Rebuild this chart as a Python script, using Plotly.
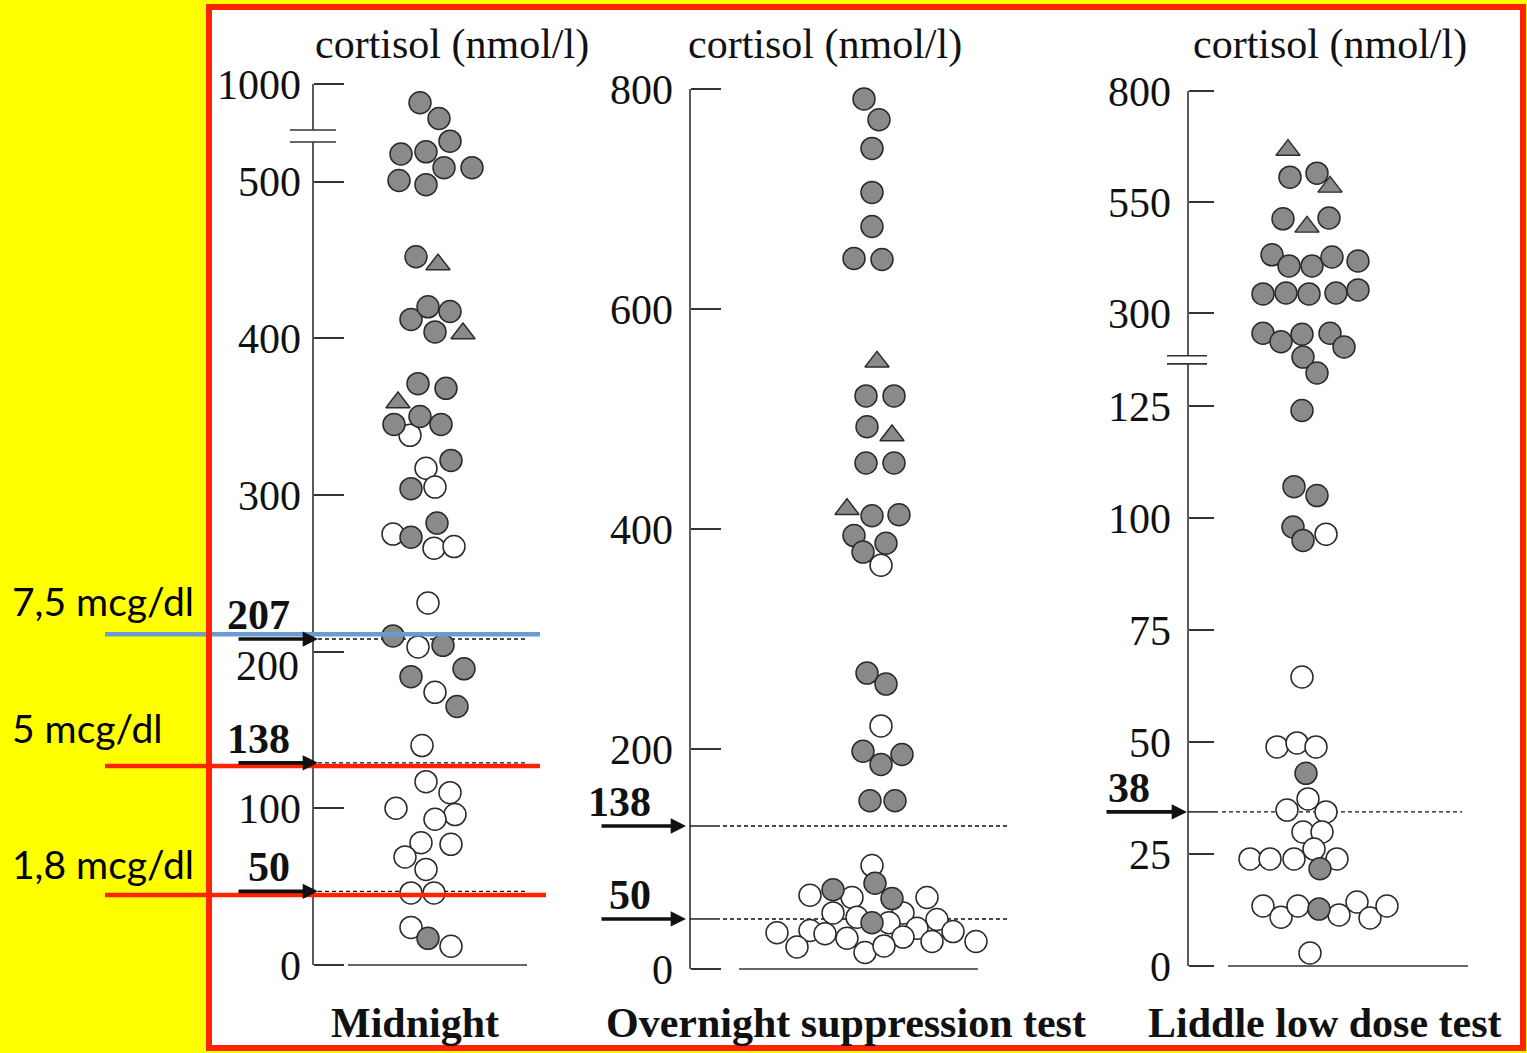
import plotly.graph_objects as go

W, H = 1527, 1053

# ---------------- data: cortisol (nmol/l) ----------------
# Midnight
mid_gray = [904, 823, 707, 641, 652, 571, 571, 505, 498, 452, 412, 420, 417, 404, 371, 368, 345, 350, 345,
            322, 304, 282, 273, 210, 204, 189, 184, 165, 17]
mid_gray_jit = [-5, 14, 25, -24, 1, 19, 47, -26, 1, -9, -14, 3, 25, 10, -7, 21, -31, -5, 16,
                26, -14, 12, -14, -32, 18, 39, -14, 32, 3]
mid_tri = [447, 403, 359]
mid_tri_jit = [13, 38, -27]
mid_open = [338, 317, 305, 275, 266, 267, 231, 203, 174, 140, 117, 110, 100, 96, 93, 78, 77, 69, 61,
            46, 46, 24, 12]
mid_open_jit = [-15, 1, 10, -32, 9, 29, 3, -7, 10, -3, 1, 25, -29, 30, 10, -4, 26, -20, 1,
                -14, 9, -14, 26]

# Overnight suppression test
on_gray = [791, 772, 746, 706, 675, 646, 645, 521, 521, 493, 460, 460, 412, 413, 394, 387, 379,
           269, 259, 198, 195, 186, 153, 153, 78, 72, 64, 42]
on_gray_jit = [-8, 7, 0, 0, 0, -18, 10, -6, 22, -5, -6, 22, 0, 27, -18, 14, -9,
               -5, 14, -9, 30, 9, -2, 23, 3, -39, 20, 0]
on_tri = [552, 485, 418]
on_tri_jit = [5, 20, -25]
on_open = [367, 221, 94, 67, 65, 65, 51, 47, 51, 42, 45, 37, 33, 35, 32, 28, 29, 34, 20, 15, 21, 25, 25]
on_open_jit = [9, 9, 0, -62, -20, 55, -39, -15, 31, 17, 65, 45, -95, -62, -47, -25, 31, 81, -75, -7, 12, 60, 104]

# Liddle low dose test
ld_gray = [606, 615, 512, 514, 431, 406, 406, 426, 417, 343, 345, 343, 345, 352, 262, 246, 260, 262,
           236, 217, 187, 124, 107, 105, 98, 95, 43, 21.7, 12.7]
ld_gray_jit = [-15, 12, -22, 24, -33, -16, 7, 27, 53, -42, -19, 4, 31, 53, -42, -24, -3, 25,
               39, -2, 12, -3, -11, 12, -12, -2, 1, 15, 14]
ld_tri = [667, 584, 494]
ld_tri_jit = [-17, 25, 2]
ld_open = [96.4, 64.5, 48.9, 49.8, 48.9, 37.3, 34.8, 34.4, 29.9, 29.9, 26.1, 23.9, 23.9, 23.9, 23.9,
           13.4, 10.9, 13.4, 11.4, 14.3, 10.7, 13.4, 2.9]
ld_open_jit = [21, -3, -28, -8, 11, 3, -18, 21, -2, 17, 9, -55, -35, -11, 32,
               -42, -24, -7, 34, 52, 65, 82, 5]

# axis ticks
mid_ticks = [0, 100, 200, 300, 400, 500, 1000]
on_ticks = [0, 200, 400, 600, 800]
ld_ticks = [0, 25, 50, 75, 100, 125, 300, 550, 800]

# cut-off arrows (label, level where the dashed line is drawn)
mid_cut_labels = ["207", "138", "50"]
mid_cut_levels = [208, 129, 47]
on_cut_labels = ["138", "50"]
on_cut_levels = [130, 45.5]
ld_cut_labels = ["38"]
ld_cut_levels = [34.4]

titles = ["Midnight", "Overnight suppression test", "Liddle low dose test"]
unit_title = "cortisol (nmol/l)"

# slide overlay (mcg/dl equivalents, drawn on the Midnight axis)
mcg_labels = ["7,5 mcg/dl", "5 mcg/dl", "1,8 mcg/dl"]
mcg_levels = [211, 127, 44.7]
mcg_colors = ["#6A9BD2", "#FF2400", "#FF2400"]


# ---------------- axis transforms (broken scales) ----------------
def u_mid(v):
    return v if v <= 500 else 500 + (v - 500) * 0.1244


def u_on(v):
    return v


def u_ld(v):
    if v <= 125:
        return v
    if v <= 300:
        return 125 + (v - 125) * 20.76 / 175
    return 145.76 + (v - 300) * 0.0991


panels = [
    dict(u=u_mid, zero=965, ppu=1.567, center=425, axis=313, dom=(300, 560), ticklen=30,
         ticks=mid_ticks, top=1000, brk=(525.2, 532.9), brk_x=(290, 336), base=(348, 527),
         dash=(318, 527), lead=False, tip=318, tail=237, lab_r=292, standoff=12,
         shifted={200: -14},
         cut_labels=mid_cut_labels, cut_levels=mid_cut_levels, title_x=452, name_x=415,
         series=[(mid_open, mid_open_jit, "open"), (mid_gray, mid_gray_jit, "gray"),
                 (mid_tri, mid_tri_jit, "tri")]),
    dict(u=u_on, zero=969, ppu=1.1, center=872, axis=690, dom=(680, 1020), ticklen=30,
         ticks=on_ticks, top=800, brk=None, brk_x=None, base=(739, 978),
         dash=(723, 1010), lead=True, tip=686, tail=600, lab_r=653, standoff=17, shifted={},
         cut_labels=on_cut_labels, cut_levels=on_cut_levels, title_x=825, name_x=846,
         series=[(on_open, on_open_jit, "open"), (on_gray, on_gray_jit, "gray"),
                 (on_tri, on_tri_jit, "tri")]),
    dict(u=u_ld, zero=966, ppu=4.48, center=1305, axis=1188, dom=(1175, 1480), ticklen=25,
         ticks=ld_ticks, top=800, brk=(134.4, 136.2), brk_x=(1167, 1207), base=(1228, 1468),
         dash=(1222, 1462), lead=True, tip=1187, tail=1105, lab_r=1152, standoff=17, shifted={},
         cut_labels=ld_cut_labels, cut_levels=ld_cut_levels, title_x=1330, name_x=1325,
         series=[(ld_open, ld_open_jit, "open"), (ld_gray, ld_gray_jit, "gray"),
                 (ld_tri, ld_tri_jit, "tri")]),
]

SERIF = "Liberation Serif"
INK = "#2a2a2a"
GRAY = "#8a8a8a"
TICKFONT = dict(family=SERIF, size=42, color="#111")


def pxx(p):
    return p / W


def pxy(p):
    return 1 - p / H


fig = go.Figure()
shapes = []
annotations = []

# white slide area (below everything)
shapes.append(dict(type="rect", xref="paper", yref="paper", x0=pxx(209), x1=pxx(1523),
                   y0=pxy(7), y1=pxy(1048), fillcolor="white", line=dict(width=0), layer="below"))

layout_axes = {}
for i, P in enumerate(panels):
    n = "" if i == 0 else str(i + 1)
    xa, ya = "x" + n, "y" + n
    u = P["u"]
    c = P["center"]
    for vals, jit, kind in P["series"]:
        if kind == "tri":
            mk = dict(symbol="triangle-up", size=21, color=GRAY, line=dict(color=INK, width=1.4))
        elif kind == "gray":
            mk = dict(symbol="circle", size=22, color=GRAY, line=dict(color=INK, width=1.5))
        else:
            mk = dict(symbol="circle", size=22, color="white", line=dict(color=INK, width=1.5))
        fig.add_trace(go.Scatter(x=jit, y=[u(v) for v in vals], mode="markers", marker=mk,
                                 xaxis=xa, yaxis=ya, cliponaxis=False, hoverinfo="skip",
                                 showlegend=False))
    d0, d1 = P["dom"]
    layout_axes["xaxis" + n] = dict(domain=[pxx(d0), pxx(d1)], range=[d0 - c, d1 - c],
                                    visible=False, fixedrange=True)
    ticktext = ["" if t in P["shifted"] else str(t) for t in P["ticks"]]
    layout_axes["yaxis" + n] = dict(
        domain=[0, 1], range=[-(H - P["zero"]) / P["ppu"], P["zero"] / P["ppu"]],
        anchor="free", position=pxx(P["axis"]), side="left",
        tickvals=[u(t) for t in P["ticks"]], ticktext=ticktext,
        ticks="inside", ticklen=P["ticklen"], tickwidth=1.5, tickcolor="#333",
        tickfont=TICKFONT, ticklabelstandoff=P["standoff"],
        showgrid=False, zeroline=False, showline=False, fixedrange=True)
    # tick labels nudged off their tick in the original (crowded by the cut-off label)
    for t, dy in P["shifted"].items():
        annotations.append(dict(xref="paper", yref=ya, x=pxx(P["axis"] - P["standoff"]), y=u(t),
                                yshift=dy, text=str(t), showarrow=False, xanchor="right",
                                yanchor="middle", font=TICKFONT))

    # axis line (with break)
    ax_x = pxx(P["axis"])
    top_u = u(P["top"])
    if P["brk"]:
        segs = [(0, P["brk"][0]), (P["brk"][1], top_u)]
    else:
        segs = [(0, top_u)]
    for s0, s1 in segs:
        shapes.append(dict(type="line", xref="paper", yref=ya, x0=ax_x, x1=ax_x, y0=s0, y1=s1,
                           line=dict(color="#333", width=1.6), layer="below"))
    if P["brk"]:
        for b in P["brk"]:
            shapes.append(dict(type="line", xref="paper", yref=ya, x0=pxx(P["brk_x"][0]),
                               x1=pxx(P["brk_x"][1]), y0=b, y1=b,
                               line=dict(color="#333", width=1.6), layer="below"))
    # baseline
    shapes.append(dict(type="line", xref=xa, yref=ya, x0=P["base"][0] - c, x1=P["base"][1] - c,
                       y0=0, y1=0, line=dict(color="#333", width=1.6), layer="below"))
    # cut-offs
    for lab, lev in zip(P["cut_labels"], P["cut_levels"]):
        dstart = P["dash"][0]
        if P["lead"]:
            shapes.append(dict(type="line", xref=xa, yref=ya, x0=P["axis"] - c,
                               x1=P["axis"] + 30 - c, y0=lev, y1=lev,
                               line=dict(color="#111", width=1.4), layer="below"))
        shapes.append(dict(type="line", xref=xa, yref=ya, x0=dstart - c, x1=P["dash"][1] - c,
                           y0=lev, y1=lev, line=dict(color="#111", width=1.4, dash="4px,3px"),
                           layer="below"))
        annotations.append(dict(xref="paper", yref=ya, x=pxx(P["tip"]), y=lev, text="",
                                showarrow=True, ax=P["tail"] - P["tip"], ay=0, axref="pixel",
                                arrowhead=2, arrowsize=0.85, arrowwidth=3.6, arrowcolor="#111",
                                standoff=0))
        annotations.append(dict(xref="paper", yref=ya, x=pxx(P["lab_r"]), y=lev,
                                text="<b>" + lab + "</b>", showarrow=False, xanchor="right",
                                yanchor="bottom", yshift=-1,
                                font=dict(family=SERIF, size=42, color="#111")))
    # titles
    annotations.append(dict(xref="paper", yref="paper", x=pxx(P["title_x"]), y=pxy(44),
                            text=unit_title, showarrow=False, xanchor="center", yanchor="middle",
                            font=dict(family=SERIF, size=42, color="#111")))
    annotations.append(dict(xref="paper", yref="paper", x=pxx(P["name_x"]), y=pxy(1023),
                            text="<b>" + titles[i] + "</b>", showarrow=False, xanchor="center",
                            yanchor="middle", font=dict(family=SERIF, size=42, color="#111")))

# slide overlay lines + labels
label_y = [601, 728, 864]
for lab, lev, col, ly in zip(mcg_labels, mcg_levels, mcg_colors, label_y):
    x1 = 546 if lab.startswith("1,8") else 540
    shapes.append(dict(type="line", xref="paper", yref="y", x0=pxx(105), x1=pxx(x1), y0=lev, y1=lev,
                       line=dict(color=col, width=4.5), layer="above"))
    annotations.append(dict(xref="paper", yref="paper", x=pxx(10), y=pxy(ly), text=lab,
                            showarrow=False, xanchor="left", yanchor="middle",
                            font=dict(family="Lato", size=39, color="black")))

# red frame on top
shapes.append(dict(type="rect", xref="paper", yref="paper", x0=pxx(209), x1=pxx(1523),
                   y0=pxy(7), y1=pxy(1048), line=dict(color="#FF2400", width=6), layer="above"))

fig.update_layout(width=W, height=H, margin=dict(l=0, r=0, t=0, b=0), autosize=False,
                  paper_bgcolor="#FFFF00", plot_bgcolor="rgba(0,0,0,0)", showlegend=False,
                  shapes=shapes, annotations=annotations, **layout_axes)

fig.write_html("out.html", config={"displayModeBar": False})
